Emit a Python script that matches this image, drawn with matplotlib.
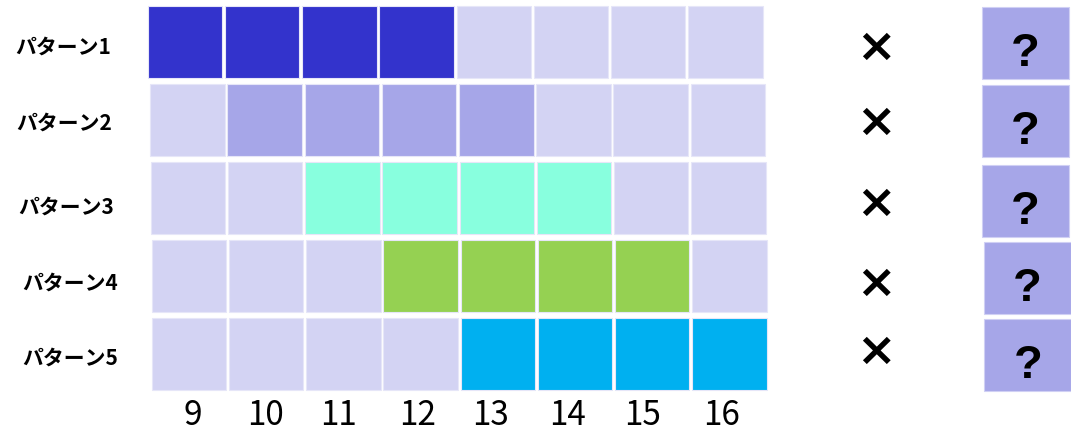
import matplotlib
matplotlib.use("Agg")
import matplotlib.pyplot as plt
from matplotlib.patches import Rectangle

# ---- data -------------------------------------------------------------
hours = [9, 10, 11, 12, 13, 14, 15, 16]
patterns = ["パターン1", "パターン2", "パターン3", "パターン4", "パターン5"]
# active window (first hour, last hour) for each pattern
active_start = [9, 10, 11, 12, 13]
active_end = [12, 13, 14, 15, 16]
active_colors = ["#3333CC", "#A6A6E8", "#88FFDE", "#95D152", "#00B0F0"]
idle_color = "#D3D3F3"
result_mark = ["×", "×", "×", "×", "×"]
outcome = ["?", "?", "?", "?", "?"]

# ---- layout (pixel geometry of the canvas) ----------------------------
W, H, DPI = 1071, 432, 100
x0_px, pitch_px = 187.5, 77.2      # centre of the first hour column, column pitch
y0_px, rowp_px = 42.0, 78.1        # centre of the first row, row pitch
row_dx_px = [-2.5, 0.0, 0.5, 1.5, 1.5]
cell_w, cell_h = 0.965, 0.922

def hx(px):
    return hours[0] + (px - x0_px) / pitch_px

def ry(py):
    return (py - y0_px) / rowp_px

jp_font = ["Noto Sans CJK JP", "DejaVu Sans"]

fig = plt.figure(figsize=(W / DPI, H / DPI), dpi=DPI)
ax = fig.add_axes([0, 0, 1, 1])
ax.set_xlim(hx(0), hx(W))
ax.set_ylim(ry(H), ry(0))
ax.axis("off")

# hour grid per pattern
for i, name in enumerate(patterns):
    dx = row_dx_px[i] / pitch_px
    for h in hours:
        on = active_start[i] <= h <= active_end[i]
        color = active_colors[i] if on else idle_color
        ax.add_patch(Rectangle((h - cell_w / 2 + dx, i - cell_h / 2), cell_w, cell_h,
                               facecolor=color, edgecolor="#E6E6F8", linewidth=0.8))

# row labels
label_left_px = [15, 16, 18, 22, 22]
label_cy_px = [47, 123, 207, 283, 358]
for i, name in enumerate(patterns):
    ax.text(hx(label_left_px[i]), ry(label_cy_px[i]), name, family=jp_font,
            fontsize=15, fontweight="bold", ha="left", va="center", color="black")

# result marks
mark_cy_px = [48, 123, 204, 284, 352]
for i, m in enumerate(result_mark):
    ax.text(hx(876), ry(mark_cy_px[i]), m, family=["DejaVu Sans"],
            fontsize=34, fontweight="bold", ha="center", va="center", color="black")

# outcome boxes
box_cx_px = [1025.5, 1025.5, 1025.5, 1027.5, 1028.0]
box_cy_px = [43, 121, 201, 277.5, 354.5]
box_w = 87 / pitch_px
box_h = 72 / rowp_px
for i, q in enumerate(outcome):
    cx, cy = hx(box_cx_px[i]), ry(box_cy_px[i])
    ax.add_patch(Rectangle((cx - box_w / 2, cy - box_h / 2), box_w, box_h,
                           facecolor="#A6A6E8", edgecolor="#D0D0F4", linewidth=0.8))
    ax.text(cx, ry(box_cy_px[i] + 23), q, family=["Liberation Sans", "DejaVu Sans"],
            fontsize=34, fontweight="bold", ha="center", va="baseline", color="black")

# hour labels
tick_x_px = [192.5, 266, 339, 418, 491, 567, 643, 721]
for h, tx in zip(hours, tick_x_px):
    ax.text(hx(tx), ry(425), str(h), family=["Noto Sans CJK JP"], fontsize=24,
            ha="center", va="baseline", color="black")

fig.savefig("out.png", dpi=DPI, facecolor="white")
